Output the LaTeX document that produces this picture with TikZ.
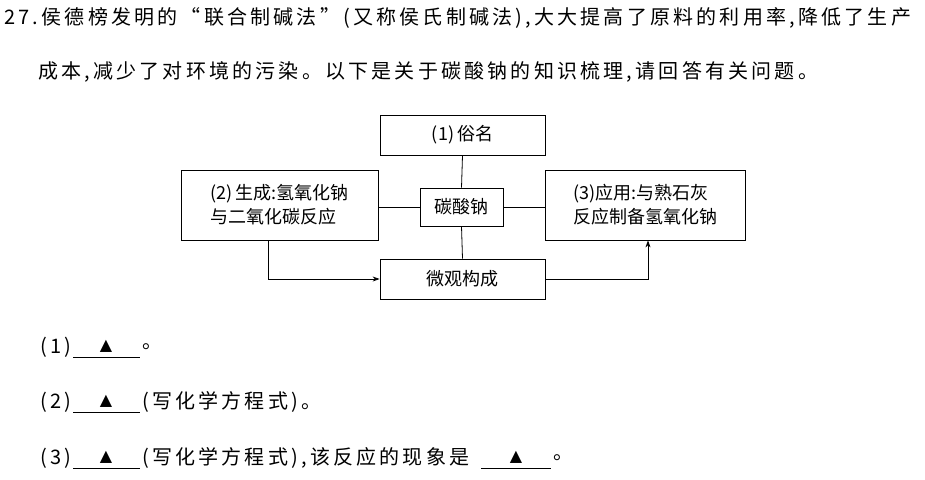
\documentclass[tikz,border=0pt]{standalone}
\usepackage{fontspec}
\usetikzlibrary{arrows.meta}
\setmainfont{Liberation Serif}
\newfontfamily\cjk{Noto Sans CJK SC}
\newfontfamily\cjksp[LetterSpace=16]{Noto Sans CJK SC}
\newfontfamily\sym{DejaVu Sans}
\begin{document}
\begin{tikzpicture}[x=1pt,y=-1pt,
  bx/.style={draw,line width=0.8pt,inner sep=0pt},
  ln/.style={line width=0.8pt},
  ar/.style={line width=0.8pt,-{Stealth[length=7pt,width=5pt]}},
  tx/.style={anchor=west,inner sep=0pt,font=\cjksp\fontsize{20}{22}\selectfont}]
\useasboundingbox (0,0) rectangle (925,479);
\node[tx] (l1) at (4,18) {27.\,侯德榜发明的“联合制碱法”(又称侯氏制碱法),大大提高了原料的利用率,降低了生产};
\node[tx] (l2) at (38,72) {成本,减少了对环境的污染。以下是关于碳酸钠的知识梳理,请回答有关问题。};
\begin{scope}[every node/.style={font=\cjk\fontsize{18}{24}\selectfont,align=left}]
\node[bx,minimum width=165,minimum height=40] (top) at (462.5,135) {(1)\,俗名};
\node[bx,minimum width=83,minimum height=38] (c) at (461.5,207) {碳酸钠};
\node[bx,minimum width=197,minimum height=70] (L) at (279.5,205) {(2)\,生成:氢氧化钠\\与二氧化碳反应};
\node[bx,minimum width=200,minimum height=70] (R) at (645,205) {(3)应用:与熟石灰\\反应制备氢氧化钠};
\node[bx,minimum width=165,minimum height=40] (m) at (462.5,279) {微观构成};
\end{scope}
\draw[ln] (top.south) -- (c.north);
\draw[ln] (c.south) -- (m.north);
\draw[ln] (c.west) -- (L.east |- c.west);
\draw[ln] (c.east) -- (R.west |- c.east);
\coordinate (a1) at (268,279);
\coordinate (a2) at (648,279);
\draw[ar] (L.south -| a1) -- (a1) -- (m.west);
\draw[ar] (m.east) -- (a2) -- (R.south -| a2);
\node[tx] (q1) at (40,347) {(1)};
\draw[ln] (73,357) -- (140,357);
\node[inner sep=0pt,font=\sym\fontsize{16}{18}\selectfont] (t1) at (106,346) {▲};
\node[tx] (q1e) at (142,347) {。};
\node[tx] (q2) at (40,402) {(2)};
\draw[ln] (73,412) -- (140,412);
\node[inner sep=0pt,font=\sym\fontsize{16}{18}\selectfont] (t2) at (106,401) {▲};
\node[tx] (q2e) at (142,402) {(写化学方程式)。};
\node[tx] (q3) at (40,458) {(3)};
\draw[ln] (73,468) -- (140,468);
\node[inner sep=0pt,font=\sym\fontsize{16}{18}\selectfont] (t3) at (106,457) {▲};
\node[tx] (q3e) at (142,458) {(写化学方程式),该反应的现象是};
\draw[ln] (481,468) -- (551,468);
\node[inner sep=0pt,font=\sym\fontsize{16}{18}\selectfont] (t4) at (516,457) {▲};
\node[tx] (q3f) at (553,458) {。};
\end{tikzpicture}
\end{document}
